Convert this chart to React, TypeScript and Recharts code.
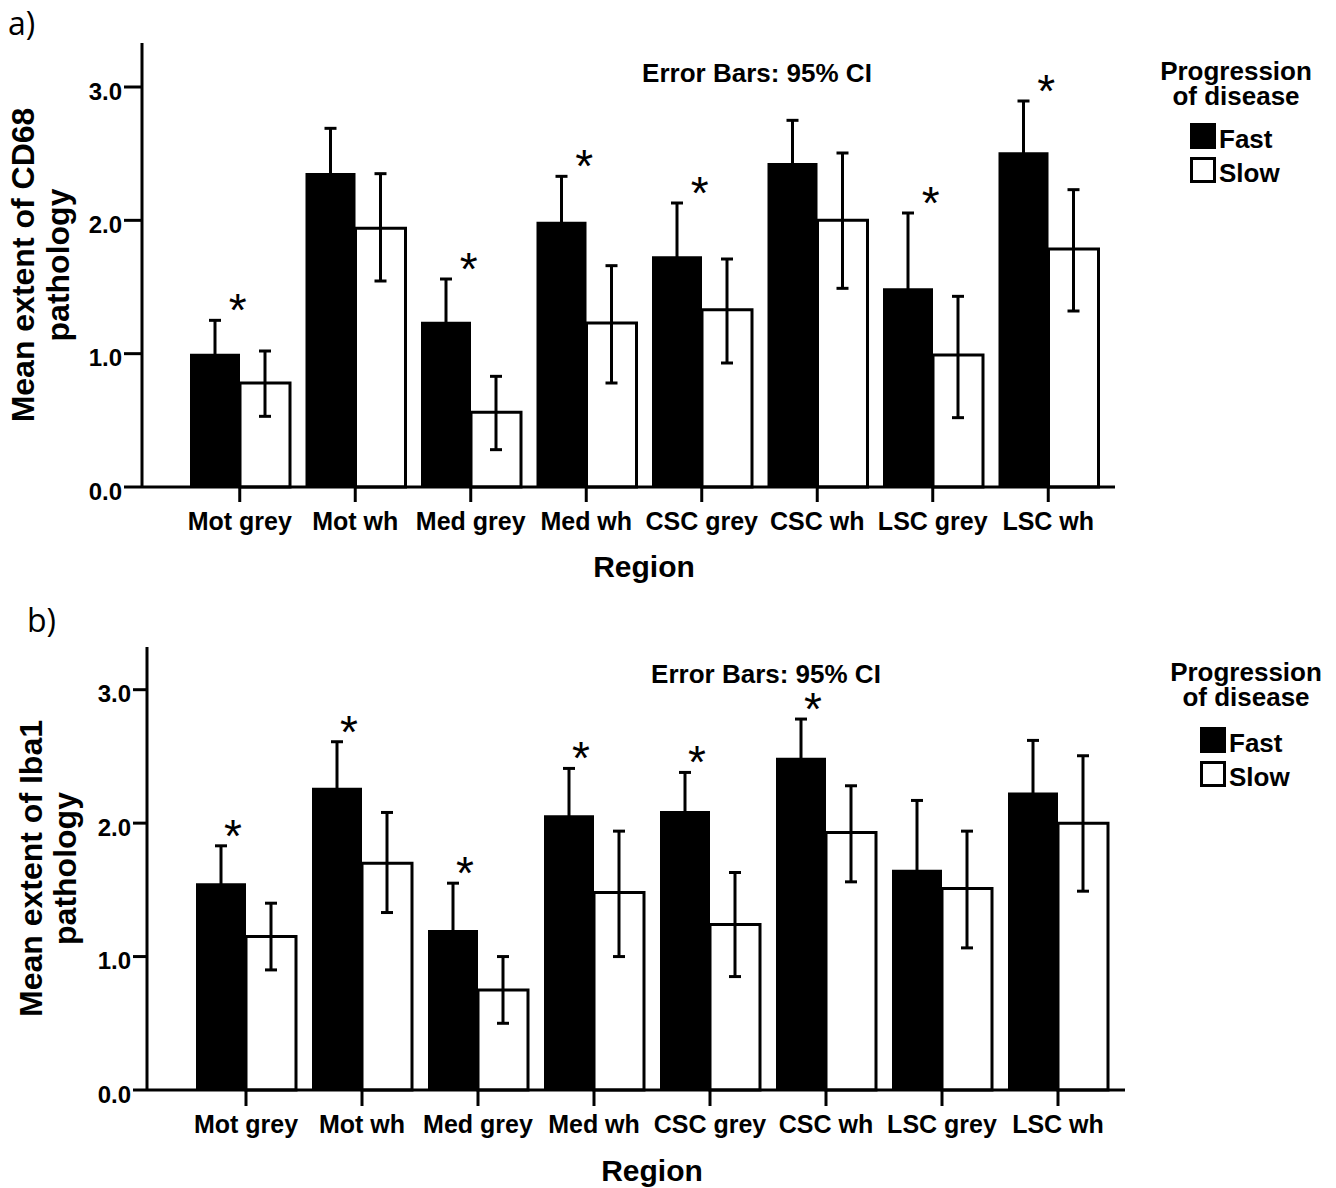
import { Bar, ComposedChart, ErrorBar, Line, XAxis, YAxis } from "recharts";

const regions = ["Mot grey", "Mot wh", "Med grey", "Med wh", "CSC grey", "CSC wh", "LSC grey", "LSC wh"];
const yTicks = [0, 1, 2, 3];
const groupNames = ["Fast", "Slow"];
const legendTitle = ["Progression", "of disease"];

// a) CD68
const cd68FastMean = [1.0, 2.355, 1.24, 1.99, 1.73, 2.43, 1.49, 2.51];
const cd68FastUpper = [1.25, 2.69, 1.56, 2.33, 2.13, 2.75, 2.055, 2.895];
const cd68SlowMean = [0.78, 1.94, 0.56, 1.23, 1.33, 2.0, 0.99, 1.785];
const cd68SlowLower = [0.53, 1.545, 0.28, 0.78, 0.93, 1.49, 0.52, 1.32];
const cd68SlowUpper = [1.02, 2.35, 0.83, 1.66, 1.71, 2.505, 1.43, 2.23];
const cd68Sig = [true, false, true, true, true, false, true, true];

// b) Iba1
const iba1FastMean = [1.55, 2.265, 1.2, 2.06, 2.09, 2.49, 1.65, 2.23];
const iba1FastUpper = [1.83, 2.61, 1.55, 2.41, 2.38, 2.78, 2.17, 2.62];
const iba1SlowMean = [1.15, 1.7, 0.75, 1.48, 1.24, 1.93, 1.51, 2.0];
const iba1SlowLower = [0.9, 1.33, 0.5, 1.0, 0.85, 1.56, 1.065, 1.49];
const iba1SlowUpper = [1.4, 2.08, 1.0, 1.94, 1.63, 2.28, 1.94, 2.505];
const iba1Sig = [true, true, true, true, true, true, false, false];

const FONT = "'Liberation Sans', Arial, sans-serif";

function buildRows(
  fastMean: number[],
  fastUpper: number[],
  slowMean: number[],
  slowLower: number[],
  slowUpper: number[],
  sig: boolean[]
) {
  return regions.map((region, i) => {
    const up = fastUpper[i] - fastMean[i];
    return {
      region,
      fast: fastMean[i],
      fastErr: [up, up],
      slow: slowMean[i],
      slowErr: [slowMean[i] - slowLower[i], slowUpper[i] - slowMean[i]],
      star: sig[i] ? fastUpper[i] : null
    };
  });
}

interface Geo {
  top: number;
  bottom: number;
  yWidth: number;
  right: number;
  padLeft: number;
  padRight: number;
  yMax: number;
  yTickSize: number;
  xTickSize: number;
  xTickMargin: number;
  starDx: number;
  line1X: number;
  line2X: number;
  regionY: number;
  letterX: number;
  letterY: number;
  noteCx: number;
  noteY: number;
  legCx: number;
  legY: number;
  boxX: number;
  boxY: number;
}

interface PanelProps {
  letter: string;
  yLabel: string[];
  rows: ReturnType<typeof buildRows>;
  g: Geo;
}

function Panel({ letter, yLabel, rows, g }: PanelProps) {
  const tickStyle = { fontSize: 24, fontWeight: "bold", fill: "#000", fontFamily: FONT };

  const yTitle = (props: any) => {
    const vb = props.viewBox;
    const cy = vb.y + vb.height / 2;
    return (
      <g>
        {yLabel.map((line, i) => {
          const x = i === 0 ? g.line1X : g.line2X;
          return (
            <text
              key={line}
              x={x}
              y={cy}
              transform={`rotate(-90, ${x}, ${cy})`}
              textAnchor="middle"
              fontSize={32}
              fontWeight="bold"
              fontFamily={FONT}
              fill="#000"
            >
              {line}
            </text>
          );
        })}
      </g>
    );
  };

  const xTitle = (props: any) => {
    const vb = props.viewBox;
    const cx = vb.x + g.padLeft + (vb.width - g.padLeft - g.padRight) / 2;
    return (
      <text x={cx} y={vb.y + g.regionY} textAnchor="middle" fontSize={30} fontWeight="bold" fontFamily={FONT} fill="#000">
        Region
      </text>
    );
  };

  // asterisk marks significant fast/slow differences, sitting above the fast CI
  const starDot = (props: any) => {
    const { cx, cy, payload, index } = props;
    if (payload.star == null || cy == null) return <g key={`s${index}`} />;
    return (
      <text key={`s${index}`} x={cx + g.starDx} y={cy + 6} textAnchor="middle" fontSize={46} fontFamily={FONT} fill="#000">
        *
      </text>
    );
  };

  return (
    <div style={{ position: "relative", width: 1336, height: 594 }}>
      <ComposedChart
        width={1336}
        height={594}
        data={rows}
        margin={{ top: g.top, right: g.right, bottom: 0, left: 0 }}
        barGap={0}
        barCategoryGap={8}
      >
        <XAxis
          dataKey="region"
          interval={0}
          height={594 - g.bottom}
          padding={{ left: g.padLeft, right: g.padRight }}
          axisLine={{ stroke: "#000", strokeWidth: 3 }}
          tickLine={{ stroke: "#000", strokeWidth: 3 }}
          tickSize={g.xTickSize}
          tickMargin={g.xTickMargin}
          tick={{ ...tickStyle, fontSize: 25 }}
          label={xTitle}
        />
        <YAxis
          width={g.yWidth}
          domain={[0, g.yMax]}
          ticks={yTicks}
          tickFormatter={(v: number) => v.toFixed(1)}
          axisLine={{ stroke: "#000", strokeWidth: 3 }}
          tickLine={{ stroke: "#000", strokeWidth: 3 }}
          tickSize={g.yTickSize}
          tickMargin={2}
          tick={{ ...tickStyle, dy: 4 }}
          label={yTitle}
        />
        <Bar dataKey="fast" name={groupNames[0]} fill="#000" isAnimationActive={false}>
          <ErrorBar dataKey="fastErr" width={6} stroke="#000" strokeWidth={3} isAnimationActive={false} />
        </Bar>
        <Bar dataKey="slow" name={groupNames[1]} fill="#fff" stroke="#000" strokeWidth={3} isAnimationActive={false}>
          <ErrorBar dataKey="slowErr" width={6} stroke="#000" strokeWidth={3} isAnimationActive={false} />
        </Bar>
        <Line
          dataKey="star"
          stroke="none"
          dot={starDot}
          activeDot={false}
          legendType="none"
          isAnimationActive={false}
        />
      </ComposedChart>
      <svg width={1336} height={594} style={{ position: "absolute", left: 0, top: 0, pointerEvents: "none" }}>
        <text x={g.letterX} y={g.letterY} fontSize={32} fontFamily="'Open Sans', sans-serif" fill="#000">
          {letter}
        </text>
        <text x={g.noteCx} y={g.noteY} textAnchor="middle" fontSize={26} fontWeight="bold" fontFamily={FONT} fill="#000">
          Error Bars: 95% CI
        </text>
        {legendTitle.map((t, i) => (
          <text
            key={t}
            x={g.legCx}
            y={g.legY + i * 25}
            textAnchor="middle"
            fontSize={26}
            fontWeight="bold"
            fontFamily={FONT}
            fill="#000"
          >
            {t}
          </text>
        ))}
        <rect x={g.boxX} y={g.boxY} width={26} height={26} fill="#000" />
        <rect x={g.boxX + 1.5} y={g.boxY + 35.5} width={23} height={23} fill="#fff" stroke="#000" strokeWidth={3} />
        {groupNames.map((n, i) => (
          <text
            key={n}
            x={g.boxX + 29}
            y={g.boxY + 25 + i * 34}
            fontSize={26}
            fontWeight="bold"
            fontFamily={FONT}
            fill="#000"
          >
            {n}
          </text>
        ))}
      </svg>
    </div>
  );
}

const geoA: Geo = {
  top: 43,
  bottom: 487,
  yWidth: 142,
  right: 1336 - 1115,
  padLeft: 40,
  padRight: 9,
  yMax: 3.33,
  yTickSize: 18,
  xTickSize: 15,
  xTickMargin: 10,
  starDx: -2,
  line1X: 34,
  line2X: 69,
  regionY: 90,
  letterX: 8,
  letterY: 35,
  noteCx: 757,
  noteY: 82,
  legCx: 1236,
  legY: 80,
  boxX: 1190,
  boxY: 123
};

const geoB: Geo = {
  top: 53,
  bottom: 496,
  yWidth: 147,
  right: 1336 - 1125,
  padLeft: 41,
  padRight: 9,
  yMax: 3.32,
  yTickSize: 14,
  xTickSize: 16,
  xTickMargin: 9,
  starDx: -13,
  line1X: 42,
  line2X: 76,
  regionY: 91,
  letterX: 27,
  letterY: 38,
  noteCx: 766,
  noteY: 89,
  legCx: 1246,
  legY: 87,
  boxX: 1200,
  boxY: 133
};

export default function App() {
  const cd68Rows = buildRows(cd68FastMean, cd68FastUpper, cd68SlowMean, cd68SlowLower, cd68SlowUpper, cd68Sig);
  const iba1Rows = buildRows(iba1FastMean, iba1FastUpper, iba1SlowMean, iba1SlowLower, iba1SlowUpper, iba1Sig);
  return (
    <div style={{ position: "absolute", left: 0, top: 0, width: 1336, height: 1188, background: "#fff" }}>
      <Panel letter="a)" yLabel={["Mean extent of CD68", "pathology"]} rows={cd68Rows} g={geoA} />
      <Panel letter="b)" yLabel={["Mean extent of Iba1", "pathology"]} rows={iba1Rows} g={geoB} />
    </div>
  );
}
